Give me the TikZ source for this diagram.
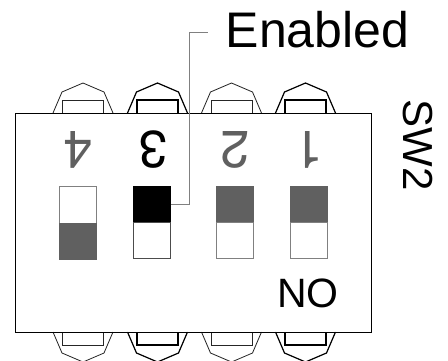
\documentclass[tikz,border=0pt]{standalone}
\usepackage{fontspec}
\setmainfont{Liberation Sans}
\newfontfamily\numfont{TeX Gyre Heros}
\usetikzlibrary{calc}
\definecolor{swgray}{HTML}{606060}
\definecolor{ldrgray}{HTML}{808080}
\tikzset{
  lugon/.style={draw=black,line width=1.2pt,fill=white},
  lugoff/.style={draw=black!85,line width=0.8pt,fill=white},
  swfill/.style={rectangle,draw=swgray,fill=swgray,line width=0.7pt,inner sep=0pt,minimum width=37pt,minimum height=36pt},
  swopen/.style={rectangle,draw=black!50,fill=white,line width=0.9pt,inner sep=0pt,minimum width=37pt,minimum height=36pt},
  numlabel/.style={inner sep=0pt,rotate=180,font=\numfont\fontsize{52}{52}\selectfont}
}
\begin{document}
\begin{tikzpicture}[x=1pt,y=-1pt]
                      \clip (0,0) rectangle (448,360);
                      % lugs, top row
                      \draw[shift={(53,113)},lugoff] (0,0) -- (9,-21) -- (30,-30) -- (51,-21) -- (60,0);
                      \draw[shift={(53,113)},lugoff] (9.5,0) -- (9.5,-13) -- (50.5,-13) -- (50.5,0);
                      \draw[shift={(127.5,113)},lugon] (0,0) -- (9,-21) -- (30,-30) -- (51,-21) -- (60,0);
                      \draw[shift={(127.5,113)},lugon] (9.5,0) -- (9.5,-13) -- (50.5,-13) -- (50.5,0);
                      \draw[shift={(201.5,113)},lugoff] (0,0) -- (9,-21) -- (30,-30) -- (51,-21) -- (60,0);
                      \draw[shift={(201.5,113)},lugoff] (9.5,0) -- (9.5,-13) -- (50.5,-13) -- (50.5,0);
                      \draw[shift={(275.5,113)},lugon] (0,0) -- (9,-21) -- (30,-30) -- (51,-21) -- (60,0);
                      \draw[shift={(275.5,113)},lugon] (9.5,0) -- (9.5,-13) -- (50.5,-13) -- (50.5,0);
                      % lugs, bottom row
                      \draw[shift={(53,332)},lugoff] (0,0) -- (9,21) -- (30,30) -- (51,21) -- (60,0);
                      \draw[shift={(53,332)},lugoff] (9.5,0) -- (9.5,13) -- (50.5,13) -- (50.5,0);
                      \draw[shift={(127.5,332)},lugon] (0,0) -- (9,21) -- (30,30) -- (51,21) -- (60,0);
                      \draw[shift={(127.5,332)},lugon] (9.5,0) -- (9.5,13) -- (50.5,13) -- (50.5,0);
                      \draw[shift={(201.5,332)},lugoff] (0,0) -- (9,21) -- (30,30) -- (51,21) -- (60,0);
                      \draw[shift={(201.5,332)},lugoff] (9.5,0) -- (9.5,13) -- (50.5,13) -- (50.5,0);
                      \draw[shift={(275.5,332)},lugon] (0,0) -- (9,21) -- (30,30) -- (51,21) -- (60,0);
                      \draw[shift={(275.5,332)},lugon] (9.5,0) -- (9.5,13) -- (50.5,13) -- (50.5,0);
                      % body
                      \draw[black,line width=0.9pt] (15.5,113) rectangle (371.5,332);
                      % numbers
                      \node[numlabel,text=swgray](num4)at(78,149.5){4};
                      \node[numlabel,text=black](num3)at(153,149.5){3};
                      \node[numlabel,text=swgray](num2)at(235,149.5){2};
                      \node[numlabel,text=swgray](num1)at(309,149.5){1};
                      % switches
                      \node[swopen,minimum height=37pt](swtop4)at(78,204.5){};
                      \node[swfill](swbot4)at(78,241){};
                      \node[swfill,draw=black,fill=black](swtop3)at(152,204){};
                      \node[swopen,draw=black!70](swbot3)at(152,240){};
                      \node[swfill](swtop2)at(234.5,204){};
                      \node[swopen](swbot2)at(234.5,240){};
                      \node[swfill](swtop1)at(308.5,204){};
                      \node[swopen](swbot1)at(308.5,240){};
                      % leader
                      \coordinate(ldrcorner)at(189,32);
                      \coordinate(ldrend)at(208,32);
                      \draw[ldrgray,line width=1pt] (swtop3.east) -| (ldrcorner) -- (ldrend);
                      % texts
                      \node[inner sep=0pt,font=\fontsize{50}{50}\selectfont](enabled)at(317.5,30){Enabled};
                      \node[inner sep=0pt,font=\fontsize{41}{41}\selectfont](nolabel)at(308,293){NO};
                      \node[inner sep=0pt,rotate=-90,font=\fontsize{42}{42}\selectfont](swname)at(417.5,145){SW2};
                  \end{tikzpicture}
\end{document}
